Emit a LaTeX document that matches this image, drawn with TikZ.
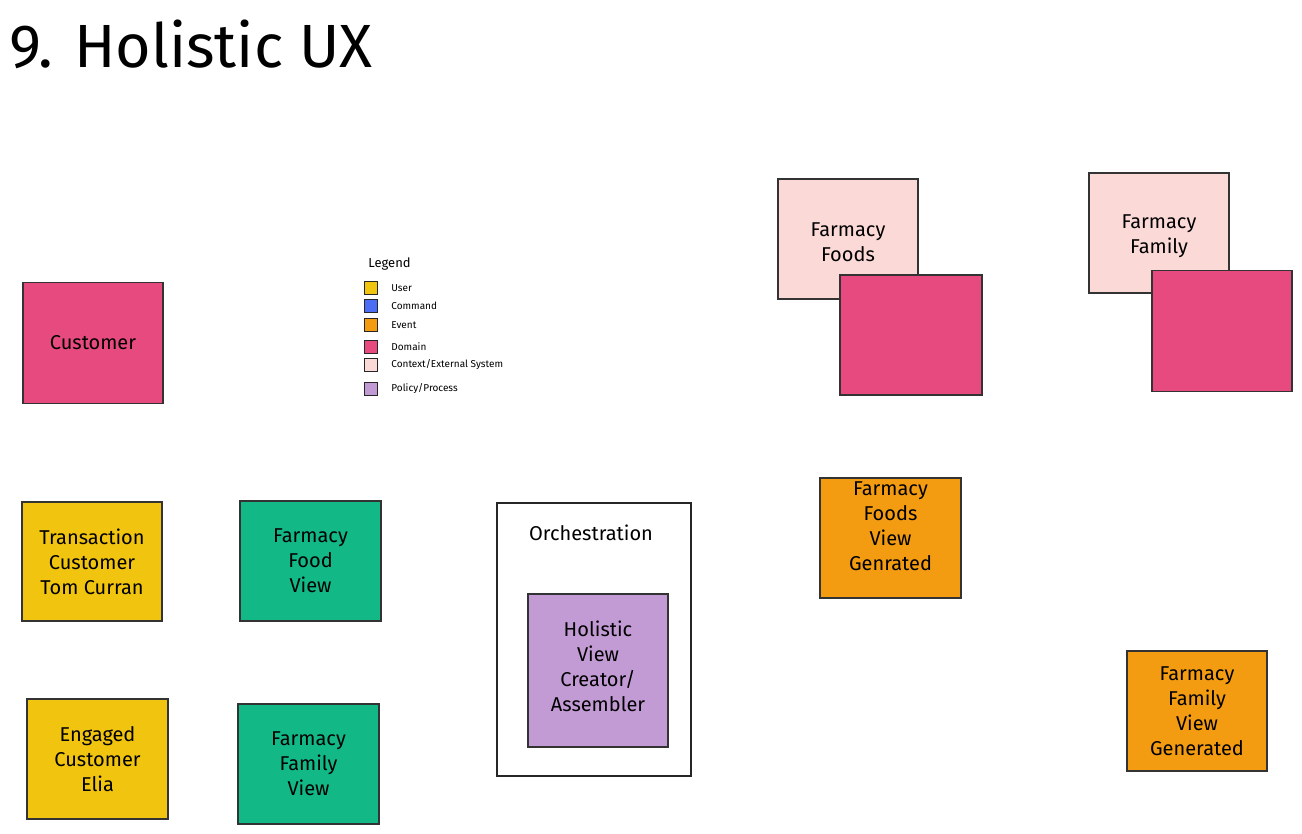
\documentclass[tikz,border=0pt]{standalone}
\usepackage{fontspec}
\setmainfont{Fira Sans}
\usetikzlibrary{positioning}

\definecolor{userc}{HTML}{F1C40F}
\definecolor{commandc}{HTML}{4C6EF5}
\definecolor{eventc}{HTML}{F39C12}
\definecolor{domainc}{HTML}{E64A7E}
\definecolor{contextc}{HTML}{FAD9D6}
\definecolor{policyc}{HTML}{C29BD5}
\definecolor{viewc}{HTML}{12B886}

\begin{document}
\begin{tikzpicture}[x=0.5pt,y=-0.5pt,
	sticky/.style={rectangle,draw=black!80,line width=0.7pt,minimum width=70pt,minimum height=60pt,align=center,inner sep=2pt,font=\fontsize{10}{12.5}\selectfont},
	domain node/.style={sticky,fill=domainc},
	context node/.style={sticky,fill=contextc},
	user node/.style={sticky,fill=userc},
	view node/.style={sticky,fill=viewc},
	event node/.style={sticky,fill=eventc},
	policy node/.style={sticky,fill=policyc},
	sticky text/.style={align=center,inner sep=0pt,font=\fontsize{10}{12.5}\selectfont},
	key box/.style={rectangle,draw=black!85,line width=0.6pt,minimum size=6.5pt,inner sep=0pt},
	key text/.style={anchor=west,font=\fontsize{5}{5.5}\selectfont,inner sep=0pt}
]
	\useasboundingbox (0,0) rectangle (1302,834);

	\node[anchor=west,font=\fontsize{30.5}{34}\selectfont,inner sep=0pt] (title) at (9,44) {9. Holistic UX};

	% legend
	\node[anchor=west,font=\fontsize{6.5}{7}\selectfont,inner sep=0pt] (legend) at (368,264) {Legend};
	\foreach \y/\c/\t [count=\i] in {288/userc/User,306/commandc/Command,325/eventc/Event,347/domainc/Domain,365/contextc/Context\slash External System,389/policyc/Policy\slash Process} {
		\node[key box,fill=\c] (k\i) at (371,\y) {};
		\node[key text,right=10pt of k\i.center] (kt\i) {\t};
	}

	% domains and contexts
	\node[domain node,minimum height=60.5pt] (cust) at (93,343) {Customer};

	\node[context node,label={[name=ffctxtext,sticky text,yshift=-1.5pt]center:Farmacy\\Foods}] (ffctx) at (848,239) {};
	\node[domain node,minimum width=71pt] (ffdom) at (911,335) {};
	\node[context node,label={[name=fmctxtext,sticky text,yshift=-1.5pt]center:Farmacy\\Family}] (fmctx) at (1159,233) {};
	\node[domain node,minimum height=60.5pt] (fmdom) at (1222,331) {};

	% users and views
	\node[user node,minimum height=59.5pt] (tom) at (92,561.5) {Transaction\\Customer\\Tom Curran};
	\node[view node,minimum width=70.5pt] (ffview) at (310.5,561) {Farmacy\\Food\\View};
	\node[user node,minimum width=70.5pt] (elia) at (97.5,759) {Engaged\\Customer\\Elia};
	\node[view node,minimum width=70.5pt] (fmview) at (308.5,764) {Farmacy\\Family\\View};

	% orchestration
	\node[rectangle,draw=black!85,line width=0.7pt,fill=white,minimum width=97pt,minimum height=136.5pt] (orch) at (594,639.5) {};
	\node[font=\fontsize{10}{12.5}\selectfont,inner sep=0pt] (orchlabel) at (591,533) {Orchestration};
	\node[policy node,minimum height=76.5pt,label={[name=holistictext,sticky text,yshift=2pt]center:Holistic\\View\\Creator/\\Assembler}] (holistic) at (598,670.5) {};

	% events
	\node[event node,minimum width=70.5pt,label={[name=ffgentext,sticky text,yshift=6pt]center:Farmacy\\Foods\\View\\Genrated}] (ffgen) at (890.5,538) {};
	\node[event node] (fmgen) at (1197,711) {Farmacy\\Family\\View\\Generated};
\end{tikzpicture}
\end{document}
